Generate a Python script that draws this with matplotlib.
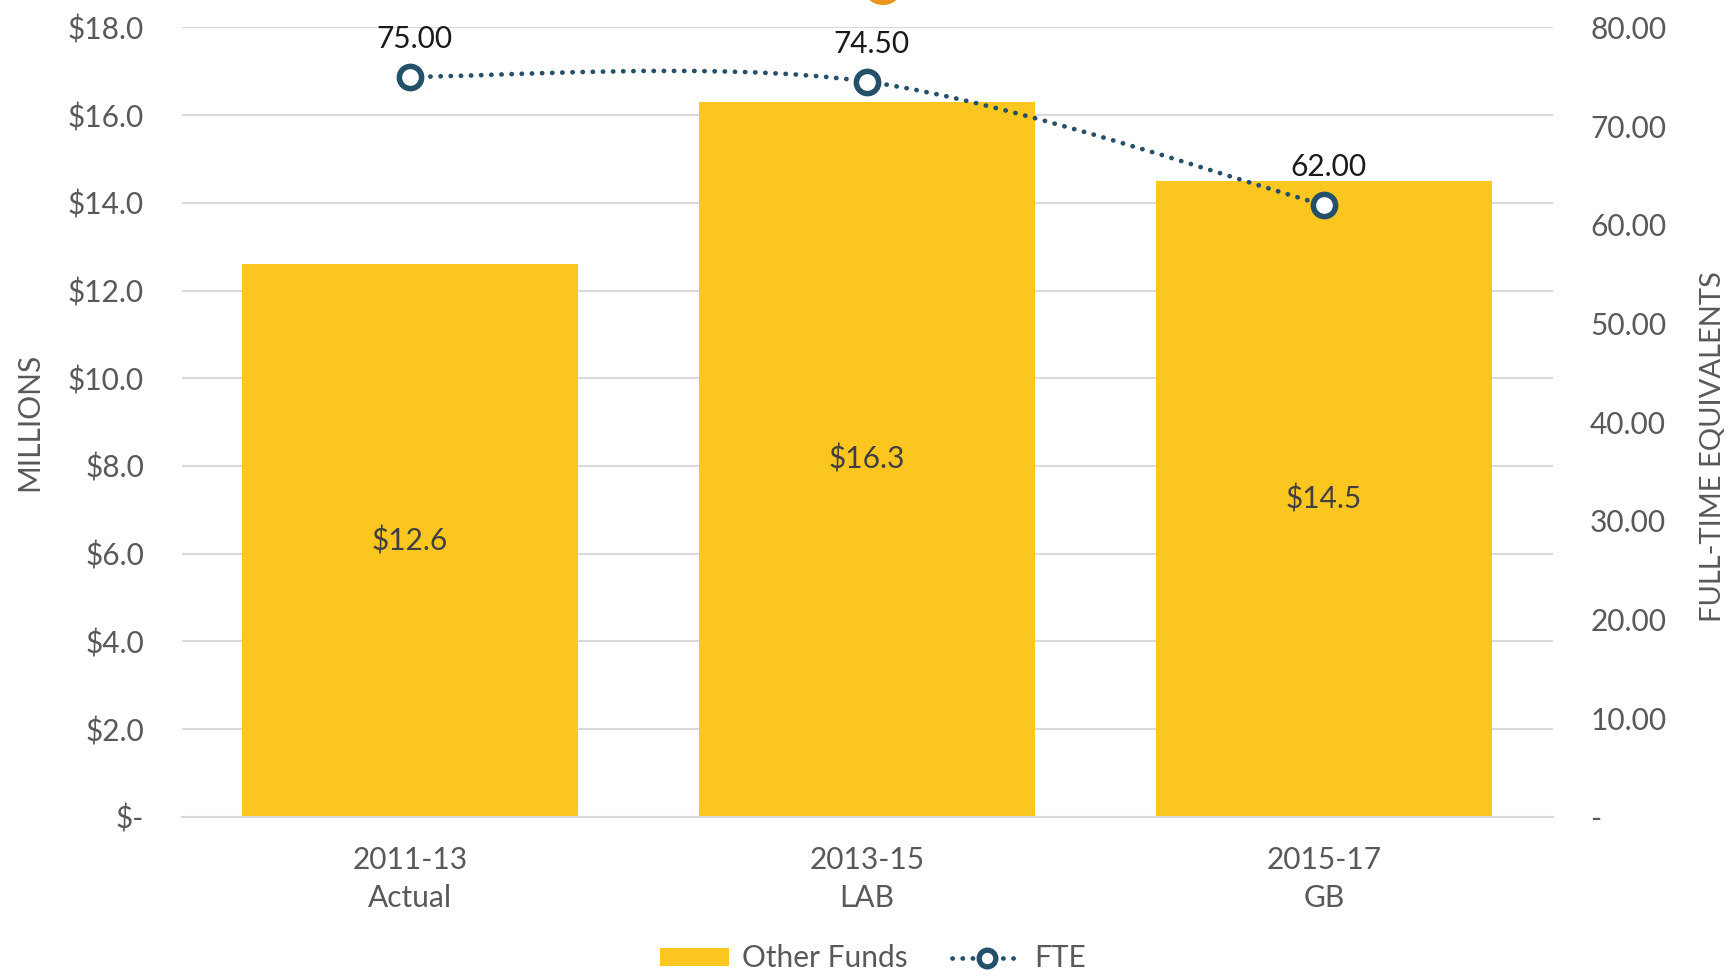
import matplotlib
matplotlib.use("Agg")
import matplotlib.pyplot as plt
from matplotlib.path import Path
from matplotlib.patches import PathPatch, Ellipse
from matplotlib.lines import Line2D
from matplotlib.patches import Patch
import numpy as np

categories = ["2011-13\nActual", "2013-15\nLAB", "2015-17\nGB"]
other_funds = [12.6, 16.3, 14.5]
fte = [75.00, 74.50, 62.00]
left_ticks = [0, 2, 4, 6, 8, 10, 12, 14, 16, 18]
right_ticks = [0, 10, 20, 30, 40, 50, 60, 70, 80]

BAR = "#FCC620"
LINE = "#24506A"
GRID = "#D9D9D9"
TXT = "#595959"
FS = 21.5

plt.rcParams['font.family'] = ['Lato', 'DejaVu Sans']

fig = plt.figure(figsize=(17.29, 9.76), dpi=100)
ax = fig.add_axes([0.105, 0.163, 0.793, 0.809])
ax2 = ax.twinx()

x = np.arange(len(categories))
ax.bar(x, other_funds, width=0.736, color=BAR, zorder=2)
for xi, v in zip(x, other_funds):
    ax.text(xi, v / 2, f"${v:.1f}", ha="center", va="center", fontsize=FS, color="#404040", zorder=3)

ax.set_xlim(-0.5, 2.5)
ax.set_ylim(0, 18)
ax.set_yticks(left_ticks)
ax.set_yticklabels(["$-" if t == 0 else f"${t:.1f}" for t in left_ticks])
ax.grid(axis="y", color=GRID, linewidth=1.5, zorder=0)
ax.set_axisbelow(True)
ax.set_xticks(x)
ax.set_xticklabels(categories, fontsize=FS, color=TXT, linespacing=1.45)
ax.tick_params(axis="both", length=0, labelsize=FS, labelcolor=TXT)
ax.tick_params(axis="y", pad=27)
ax.tick_params(axis="x", pad=21)
for s in ["top", "right", "left"]:
    ax.spines[s].set_visible(False)
ax.spines["bottom"].set_color(GRID)
ax.spines["bottom"].set_linewidth(1.5)
ax.set_ylabel("MILLIONS", fontsize=21.5, color=TXT, labelpad=18)

ax2.set_ylim(0, 80)
ax2.set_yticks(right_ticks)
ax2.set_yticklabels(["-" if t == 0 else f"{t:.2f}" for t in right_ticks])
ax2.tick_params(axis="y", length=0, labelsize=FS, labelcolor=TXT, pad=27)
for s in ax2.spines.values():
    s.set_visible(False)
ax2.set_ylabel("FULL-TIME EQUIVALENTS", fontsize=21, color=TXT, rotation=90, labelpad=24)
ax2.yaxis.label.set_y(0.469)

# smoothed line (Catmull-Rom style, as Excel's smoothing) through the data points
pts = np.column_stack([x, fte]).astype(float)
verts = [pts[0]]
codes = [Path.MOVETO]
n = len(pts)
for i in range(n - 1):
    p0 = pts[i - 1] if i > 0 else pts[i]
    p1 = pts[i]
    p2 = pts[i + 1]
    p3 = pts[i + 2] if i + 2 < n else pts[i + 1]
    c1 = p1 + (p2 - p0) / 6
    c2 = p2 - (p3 - p1) / 6
    verts += [c1, c2, p2]
    codes += [Path.CURVE4] * 3
path = Path(verts, codes)
DOT = (0, (0.05, 2.1))
patch = PathPatch(path, facecolor="none", edgecolor=LINE, linewidth=3.4,
                  linestyle=DOT, capstyle="round", zorder=4)
ax2.add_patch(patch)
ax2.plot(x, fte, linestyle="none", marker="o", markersize=16, markerfacecolor="white",
         markeredgecolor=LINE, markeredgewidth=4, zorder=5)
for xi, v in zip(x, fte):
    ax2.annotate(f"{v:.2f}", (xi, v), xytext=(3, 27), textcoords="offset points",
                 ha="center", va="center", fontsize=FS, color="#1a1a1a", zorder=6)

handles = [Patch(facecolor=BAR, edgecolor="none"),
           Line2D([0], [0], color=LINE, linewidth=3.4, linestyle=DOT,
                  dash_capstyle="round", marker="o", markersize=12,
                  markerfacecolor="white", markeredgecolor=LINE, markeredgewidth=3.8)]
leg = fig.legend(handles, ["Other Funds", "FTE"], loc="center", bbox_to_anchor=(0.505, 0.018),
                 ncol=2, frameon=False, fontsize=FS, handlelength=2.3, handleheight=0.55,
                 columnspacing=1.5, handletextpad=0.45)
for t in leg.get_texts():
    t.set_color(TXT)

# partial decorative element cropped at top edge
fig.patches.append(Ellipse((883 / 1729, 1.0 + 8 / 976), 34 / 1729, 26 / 976,
                           transform=fig.transFigure, facecolor="#E8961E", edgecolor="none"))

fig.savefig("out.png", dpi=100)
